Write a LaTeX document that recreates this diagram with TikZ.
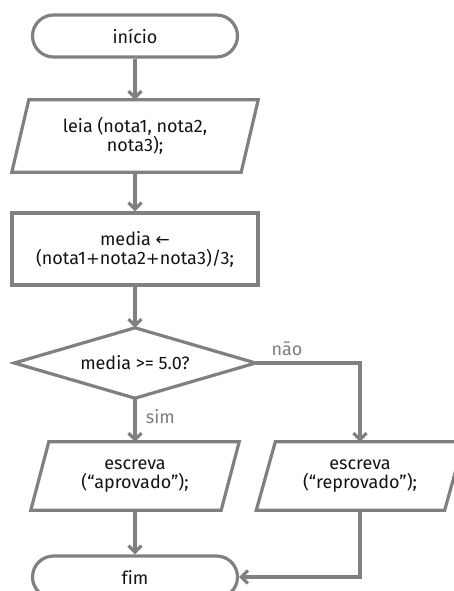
\documentclass[tikz,border=0pt]{standalone}
\usepackage{fontspec}
\setmainfont{Fira Sans}[Ligatures=CommonOff]
\newfontfamily\symfont{DejaVu Sans}
\usetikzlibrary{arrows.meta,calc}
\definecolor{linegray}{RGB}{128,128,128}
\definecolor{labelgray}{RGB}{125,125,125}
\definecolor{textdark}{RGB}{18,18,28}
\newcommand{\wplus}{{\symfont\fontsize{16.5}{19}\selectfont +}}
\begin{document}
\begin{tikzpicture}[x=1pt,y=-1pt,
  txt/.style={font=\fontsize{18}{19}\selectfont, text=textdark, align=center, inner sep=0pt},
  outline/.style={draw=linegray, line width=3.2pt},
  term/.style={txt, outline, fill=white, rounded corners=21pt, minimum width=205pt, minimum height=42pt},
  procbox/.style={txt, outline, fill=white, minimum width=246pt, minimum height=72pt},
  flow/.style={draw=linegray, line width=3.2pt, -{Straight Barb[length=6.5pt,width=13pt]}},
  lbl/.style={font=\fontsize{18}{20}\selectfont, text=labelgray}]

  % canvas
  \useasboundingbox (0,0) rectangle (453,591);
  \fill[white] (0,0) rectangle (453,591);

  % start
  \node[term] (inicio) at (135,36) {início};

  % input
  \node[txt, minimum width=229pt, minimum height=72pt] (leia) at (135,136) {leia (nota1, nota2,\\nota3);};
  \draw[outline] ([xshift=8.5pt]leia.north west) -- ([xshift=8.5pt]leia.north east)
    -- ([xshift=-8.5pt]leia.south east) -- ([xshift=-8.5pt]leia.south west) -- cycle;

  % assignment
  \node[procbox] (media) at (135,249) {media {\symfont\fontsize{17}{19}\selectfont ←}\\(nota1\wplus nota2\wplus nota3)/3;};

  % decision
  \node[txt, minimum width=241pt, minimum height=70pt] (dec) at (135,363) {media >= 5.0?};
  \draw[outline] (dec.north) -- (dec.east) -- (dec.south) -- (dec.west) -- cycle;

  % outputs
  \node[txt, minimum width=190pt, minimum height=68pt] (aprov) at (135,476) {escreva\\(“aprovado”);};
  \draw[outline] ([xshift=9pt]aprov.north west) -- ([xshift=9pt]aprov.north east)
    -- ([xshift=-9pt]aprov.south east) -- ([xshift=-9pt]aprov.south west) -- cycle;

  \node[txt, minimum width=188pt, minimum height=68pt] (reprov) at (360,476) {escreva\\(“reprovado”);};
  \draw[outline] ([xshift=9.5pt]reprov.north west) -- ([xshift=9.5pt]reprov.north east)
    -- ([xshift=-9.5pt]reprov.south east) -- ([xshift=-9.5pt]reprov.south west) -- cycle;

  % end
  \node[term] (fim) at (135,577) {fim};

  % connectors
  \draw[flow] (inicio.south) -- (leia.north);
  \draw[flow] (leia.south) -- (media.north);
  \draw[flow] (media.south) -- (dec.north);
  \draw[flow] (dec.south) -- node[lbl, anchor=west, pos=0.42, xshift=6pt] {sim} (aprov.north);
  \draw[flow] (dec.east) -- node[lbl, above=2pt, pos=0.3] {não} (dec.east -| reprov.north) -- (reprov.north);
  \draw[flow] (aprov.south) -- (fim.north);
  \draw[flow] (reprov.south) |- (fim.east);
\end{tikzpicture}
\end{document}
